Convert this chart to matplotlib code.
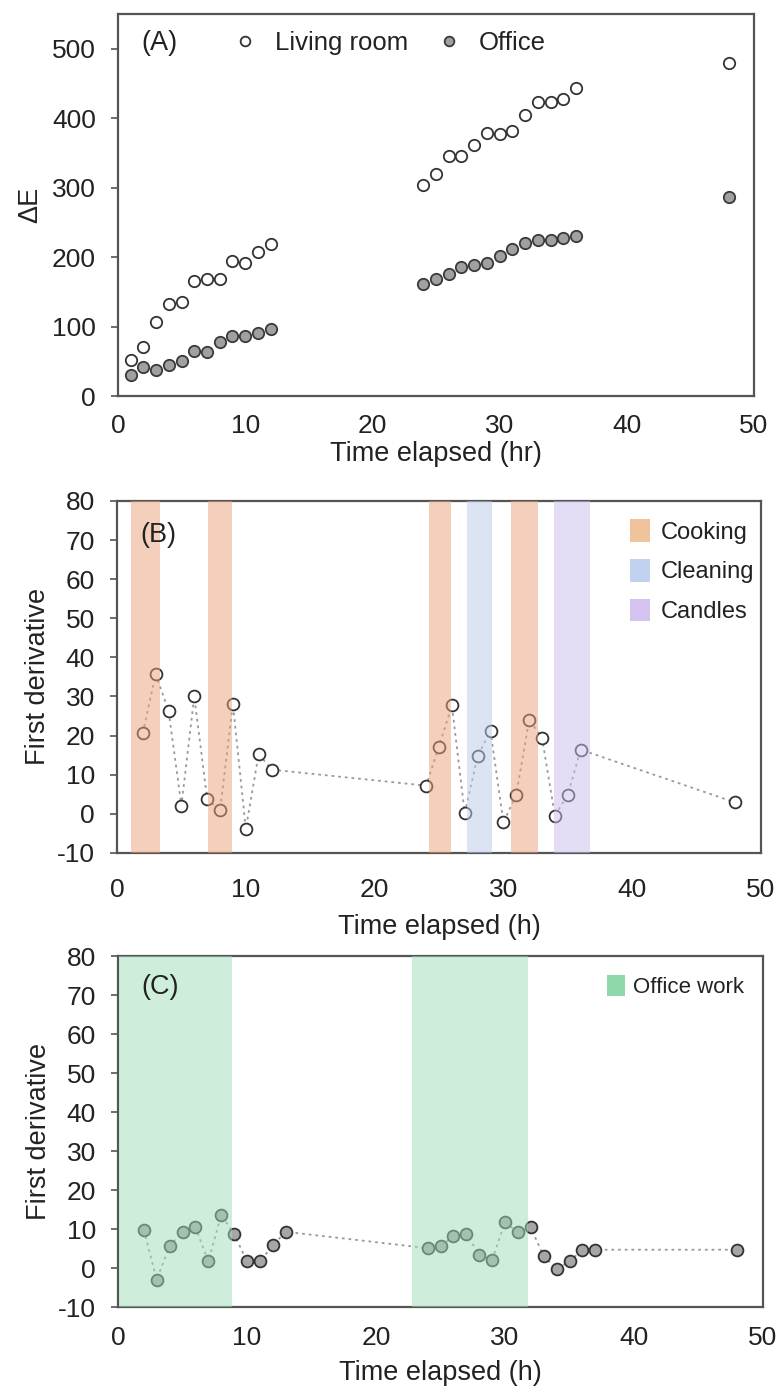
import matplotlib
matplotlib.use("Agg")
import matplotlib.pyplot as plt
from matplotlib.patches import Patch

plt.rcParams['font.family'] = ['Liberation Sans', 'DejaVu Sans']
plt.rcParams['axes.unicode_minus'] = False
plt.rcParams['text.color'] = '#222222'
plt.rcParams['axes.labelcolor'] = '#222222'
plt.rcParams['xtick.color'] = '#222222'
plt.rcParams['ytick.color'] = '#222222'

# panel A - cumulative dE
t_a = [1, 2, 3, 4, 5, 6, 7, 8, 9, 10, 11, 12,
       24, 25, 26, 27, 28, 29, 30, 31, 32, 33, 34, 35, 36, 48]
living_room = [52, 70, 106, 132, 136, 166, 168, 168, 195, 191, 208, 219,
               304, 320, 345, 346, 362, 379, 378, 382, 404, 424, 424, 427, 444, 480]
office = [31, 42, 38, 44, 51, 65, 63, 78, 87, 87, 91, 97,
          162, 168, 175, 186, 188, 191, 202, 211, 221, 225, 225, 228, 231, 287]

# panel B - living room first derivative
t_b = [2, 3, 4, 5, 6, 7, 8, 9, 10, 11, 12,
       24, 25, 26, 27, 28, 29, 30, 31, 32, 33, 34, 35, 36, 48]
deriv_b = [20.6, 35.7, 26.4, 2.1, 30.0, 3.8, 0.9, 28.1, -3.9, 15.3, 11.3,
           7.2, 17.2, 27.7, 0.2, 14.8, 21.2, -2.2, 4.9, 24.0, 19.5, -0.5, 4.9, 16.4, 2.9]

# panel C - office first derivative
t_c = [2, 3, 4, 5, 6, 7, 8, 9, 10, 11, 12, 13,
       24, 25, 26, 27, 28, 29, 30, 31, 32, 33, 34, 35, 36, 37, 48]
deriv_c = [9.8, -3.0, 5.7, 9.2, 10.5, 1.7, 13.6, 8.7, 1.7, 1.7, 5.8, 9.3,
           5.1, 5.7, 8.1, 8.8, 3.4, 2.1, 11.7, 9.2, 10.4, 3.0, -0.2, 1.7, 4.7, 4.7, 4.7]

# activity periods (start, end) in hours
cooking = [(1.1, 3.3), (7.1, 8.9), (24.2, 25.9), (30.6, 32.7)]
cleaning = [(27.2, 29.1)]
candles = [(33.9, 36.7)]
office_work = [(0.1, 8.8), (22.8, 31.8)]

band_colors = {'Cooking': '#E8A07A', 'Cleaning': '#BBCBEB', 'Candles': '#CDBBEF'}
patch_colors = {'Cooking': '#F0C39C', 'Cleaning': '#C2D2EE', 'Candles': '#D4C3F0'}
green_band = '#A1DDB9'
green_patch = '#8ED8AA'

fs = 19.5
tfs = 19
spine_col = '#555555'


def style_axes(ax, xpad=14):
    for s in ax.spines.values():
        s.set_color(spine_col)
        s.set_linewidth(1.6)
    ax.tick_params(axis='x', length=0, pad=xpad, labelsize=tfs)
    ax.tick_params(axis='y', length=5, width=1.2, color=spine_col, pad=11, labelsize=tfs,
                   direction='out')
    ax.set_xlim(0, 50)
    ax.set_xticks([0, 10, 20, 30, 40, 50])


fig = plt.figure(figsize=(7.8, 13.93), dpi=100)

# ---- (A)
ax1 = fig.add_axes([0.1513, 0.7157, 0.8154, 0.2742])
ax1.plot(t_a, living_room, 'o', ms=8.2, mfc='white', mec='#333333', mew=1.3, label='Living room')
ax1.plot(t_a, office, 'o', ms=8.2, mfc='#A0A0A0', mec='#3a3a3a', mew=1.3, label='Office')
style_axes(ax1, xpad=13)
ax1.set_ylim(0, 550)
ax1.set_yticks([0, 100, 200, 300, 400, 500])
ax1.set_xlabel('Time elapsed (hr)', fontsize=fs, labelpad=2)
ax1.set_ylabel('ΔE', fontsize=fs, labelpad=6)
ax1.text(0.036, 0.925, '(A)', transform=ax1.transAxes, fontsize=fs, va='center', ha='left')
ax1.legend(loc='center left', bbox_to_anchor=(0.16, 0.925), ncol=2, frameon=False,
           fontsize=18.5, handletextpad=0.15, columnspacing=0.6, markerscale=0.85,
           borderaxespad=0, borderpad=0)

# ---- (B)
ax2 = fig.add_axes([0.15, 0.3877, 0.8256, 0.2527])
ax2.plot(t_b, deriv_b, color='#999999', lw=1.3, ls=(0, (1.5, 2.2)), zorder=2)
ax2.plot(t_b, deriv_b, 'o', ms=8.5, mfc='white', mec='#333333', mew=1.3, zorder=3)
for name, spans in [('Cooking', cooking), ('Cleaning', cleaning), ('Candles', candles)]:
    for a, b in spans:
        ax2.axvspan(a, b, color=band_colors[name], alpha=0.5, lw=0, zorder=4)
style_axes(ax2, xpad=18)
ax2.set_ylim(-10, 80)
ax2.set_yticks(range(-10, 81, 10))
ax2.set_xlabel('Time elapsed (h)', fontsize=fs, labelpad=9)
ax2.set_ylabel('First derivative', fontsize=fs, labelpad=4)
ax2.text(0.036, 0.903, '(B)', transform=ax2.transAxes, fontsize=fs, va='center', ha='left',
         zorder=6)
handles_b = [Patch(facecolor=patch_colors[n], edgecolor='none', label=n)
             for n in ['Cooking', 'Cleaning', 'Candles']]
ax2.legend(handles=handles_b, loc='upper right', frameon=False, fontsize=17,
           handlelength=0.85, handleheight=1.1, handletextpad=0.45, labelspacing=0.65,
           borderaxespad=0.3, bbox_to_anchor=(1.015, 0.995))

# ---- (C)
ax3 = fig.add_axes([0.1513, 0.0617, 0.8269, 0.252])
ax3.plot(t_c, deriv_c, color='#999999', lw=1.3, ls=(0, (1.5, 2.2)), zorder=2)
ax3.plot(t_c, deriv_c, 'o', ms=8.5, mfc='#A6A6A6', mec='#333333', mew=1.3, zorder=3)
for a, b in office_work:
    ax3.axvspan(a, b, color=green_band, alpha=0.5, lw=0, zorder=4)
style_axes(ax3, xpad=14)
ax3.set_ylim(-10, 80)
ax3.set_yticks(range(-10, 81, 10))
ax3.set_xlabel('Time elapsed (h)', fontsize=fs, labelpad=7)
ax3.set_ylabel('First derivative', fontsize=fs, labelpad=4)
ax3.text(0.036, 0.912, '(C)', transform=ax3.transAxes, fontsize=fs, va='center', ha='left',
         zorder=6)
ax3.legend(handles=[Patch(facecolor=green_patch, edgecolor='none', label='Office work')],
           loc='upper right', frameon=False, fontsize=16, handlelength=0.85,
           handleheight=1.1, handletextpad=0.35, borderaxespad=0.3,
           bbox_to_anchor=(0.995, 0.99))

fig.savefig('out.png', dpi=100)
